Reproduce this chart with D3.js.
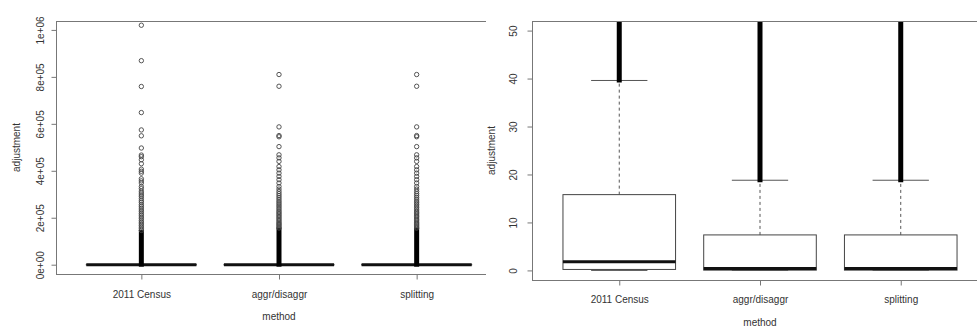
<!DOCTYPE html>
<html>
<head>
<meta charset="utf-8">
<script src="https://cdn.jsdelivr.net/npm/d3@7"></script>
<style>
  html, body { margin: 0; padding: 0; background: #fff; }
  svg { display: block; font-family: "Liberation Sans", Arial, sans-serif; }
</style>
</head>
<body>
<svg id="chart" width="977" height="327"></svg>
<script>
// ---------------- data ----------------
const categories = ["2011 Census", "aggr/disaggr", "splitting"];
const whiskerLow  = [0, 0, 0];
const q1          = [0.2, 0.05, 0.05];
const median      = [1.8, 0.4, 0.4];
const q3          = [15.8, 7.4, 7.4];
const whiskerHigh = [39.6, 18.8, 18.8];
// outliers from the upper whisker up to this value overlap into a solid bar
const denseOutlierTop = [140000, 150000, 150000];
const outliers2011 = [1020000, 869000, 759000, 648000, 574000, 549000, 497000, 467000, 460000, 447000,
  430000, 407000, 398000, 390000, 366000, 357000, 348000, 333000, 324000, 313000, 305000, 297000,
  290000, 281000, 272000, 265000, 256000, 249000, 241000, 233000, 226000, 218000, 211000, 203000,
  196000, 188000, 181000, 174000, 167000, 160000, 153000, 146000];
const outliersAggr = [810000, 760000, 587000, 550000, 545000, 503000, 468000, 455000, 440000, 418000,
  404000, 390000, 376000, 362000, 348000, 333000, 322000, 312000, 303000, 295000, 287000, 279000,
  271000, 264000, 257000, 250000, 243000, 236000, 229000, 223000, 217000, 211000, 205000, 199000,
  193000, 187000, 181000, 176000, 171000, 166000, 161000, 156000];
const outliersSplit = [810000, 760000, 587000, 550000, 545000, 503000, 468000, 455000, 440000, 418000,
  404000, 390000, 376000, 362000, 348000, 333000, 322000, 312000, 303000, 295000, 287000, 279000,
  271000, 264000, 257000, 250000, 243000, 236000, 229000, 223000, 217000, 211000, 205000, 199000,
  193000, 187000, 181000, 176000, 171000, 166000, 161000, 156000];
const outliers = [outliers2011, outliersAggr, outliersSplit];

const leftTicks = [0, 200000, 400000, 600000, 800000, 1000000];
const leftTickLabels = ["0e+00", "2e+05", "4e+05", "6e+05", "8e+05", "1e+06"];
const rightTicks = [0, 10, 20, 30, 40, 50];
const rightTickLabels = ["0", "10", "20", "30", "40", "50"];
const xTitle = "method";
const yTitle = "adjustment";

// ---------------- layout ----------------
const panels = [
  { id: "L", x0: 56, x1: 502, top: 21, bottom: 274, yDomain: [-39600, 1038000],
    ticks: leftTicks, tickLabels: leftTickLabels, clipRight: 486,
    yLabOff: 13, yTitleX: 16, xLabY: 297, xTitleY: 320 },
  { id: "R", x0: 532, x1: 988, top: 21, bottom: 280, yDomain: [-2, 52],
    ticks: rightTicks, tickLabels: rightTickLabels, clipRight: 977,
    yLabOff: 16, yTitleX: 491.5, xLabY: 302, xTitleY: 326 }
];

const svg = d3.select("#chart");
const defs = svg.append("defs");
const textCol = "#333";
const frameCol = "#777";

panels.forEach((p, pi) => {
  const x = d3.scaleLinear().domain([0.38, 3.62]).range([p.x0, p.x1]);
  const y = d3.scaleLinear().domain(p.yDomain).range([p.bottom, p.top]);
  const unit = x(1) - x(0);

  defs.append("clipPath").attr("id", "outer" + p.id)
    .append("rect").attr("x", pi === 0 ? 0 : 486).attr("y", 0)
    .attr("width", pi === 0 ? 486 : 491).attr("height", 327);
  defs.append("clipPath").attr("id", "plot" + p.id)
    .append("rect").attr("x", p.x0).attr("y", p.top)
    .attr("width", p.x1 - p.x0).attr("height", p.bottom - p.top);

  const g = svg.append("g").attr("clip-path", `url(#outer${p.id})`);
  const marks = g.append("g").attr("clip-path", `url(#plot${p.id})`);

  categories.forEach((c, i) => {
    const cx = x(i + 1);
    const bw = 0.8 * unit;
    const cw = 0.4 * unit;
    const gg = marks.append("g");
    // whiskers (dashed)
    gg.append("line").attr("x1", cx).attr("x2", cx)
      .attr("y1", y(q3[i])).attr("y2", y(whiskerHigh[i]))
      .attr("stroke", "#555").attr("stroke-width", 1).attr("stroke-dasharray", "3,3");
    gg.append("line").attr("x1", cx).attr("x2", cx)
      .attr("y1", y(q1[i])).attr("y2", y(whiskerLow[i]))
      .attr("stroke", "#555").attr("stroke-width", 1).attr("stroke-dasharray", "3,3");
    // caps
    [whiskerHigh[i], whiskerLow[i]].forEach(v => {
      gg.append("line").attr("x1", cx - cw / 2).attr("x2", cx + cw / 2)
        .attr("y1", y(v)).attr("y2", y(v))
        .attr("stroke", "#555").attr("stroke-width", 1);
    });
    // box
    gg.append("rect").attr("x", cx - bw / 2).attr("width", bw)
      .attr("y", y(q3[i])).attr("height", Math.max(0.1, y(q1[i]) - y(q3[i])))
      .attr("fill", "#fff").attr("stroke", "#444").attr("stroke-width", 1);
    // median
    gg.append("line").attr("x1", cx - bw / 2).attr("x2", cx + bw / 2)
      .attr("y1", y(median[i])).attr("y2", y(median[i]))
      .attr("stroke", "#111").attr("stroke-width", 3);
    // dense outlier run
    gg.append("line").attr("x1", cx).attr("x2", cx)
      .attr("y1", y(whiskerHigh[i]) + 2).attr("y2", y(denseOutlierTop[i]) - 2)
      .attr("stroke", "#000").attr("stroke-width", 5);
    // individual outliers
    gg.selectAll("circle").data(outliers[i]).join("circle")
      .attr("cx", cx).attr("cy", d => y(d)).attr("r", 2.2)
      .attr("fill", "none").attr("stroke", "#444").attr("stroke-width", 0.9);
  });

  // frame
  g.append("rect").attr("x", p.x0 + 0.5).attr("y", p.top + 0.5)
    .attr("width", p.x1 - p.x0).attr("height", p.bottom - p.top)
    .attr("fill", "none").attr("stroke", frameCol).attr("stroke-width", 1);

  // y axis
  const yAxis = g.append("g").attr("transform", `translate(${p.x0 + 0.5},0)`)
    .call(d3.axisLeft(y).tickValues(p.ticks).tickSize(5)
      .tickFormat((d, k) => p.tickLabels[k]));
  yAxis.select(".domain").remove();
  yAxis.selectAll(".tick line").attr("stroke", frameCol);
  yAxis.selectAll(".tick text")
    .attr("x", 0).attr("y", -p.yLabOff).attr("dy", 0)
    .attr("transform", "rotate(-90)")
    .attr("text-anchor", "middle")
    .attr("fill", textCol).attr("font-size", 10)
    .attr("font-family", "Liberation Sans, Arial, sans-serif");

  // x axis
  const xAxis = g.append("g").attr("transform", `translate(0,${p.bottom + 0.5})`)
    .call(d3.axisBottom(x).tickValues([1, 2, 3]).tickSize(5)
      .tickFormat((d, k) => categories[k]));
  xAxis.select(".domain").remove();
  xAxis.selectAll(".tick line").attr("stroke", frameCol);
  xAxis.selectAll(".tick text")
    .attr("y", p.xLabY - p.bottom).attr("dy", 0)
    .attr("fill", textCol).attr("font-size", 10)
    .attr("font-family", "Liberation Sans, Arial, sans-serif");

  // titles
  g.append("text").attr("x", (p.x0 + p.x1) / 2).attr("y", p.xTitleY)
    .attr("text-anchor", "middle").attr("font-size", 10).attr("fill", textCol)
    .text(xTitle);
  g.append("text")
    .attr("transform", `translate(${p.yTitleX + 3.5},${(p.top + p.bottom) / 2}) rotate(-90)`)
    .attr("text-anchor", "middle").attr("font-size", 10).attr("fill", textCol)
    .text(yTitle);
});
</script>
</body>
</html>
